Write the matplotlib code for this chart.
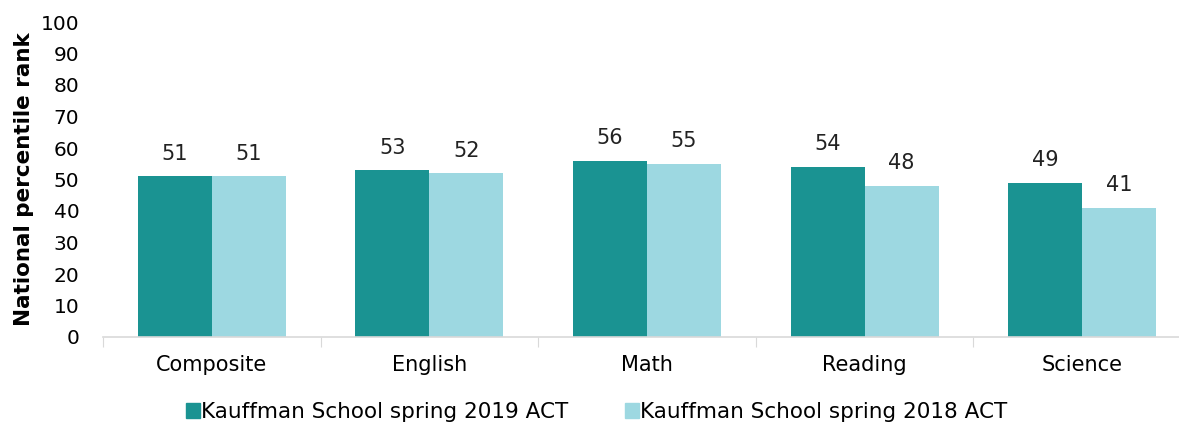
import numpy as np
import matplotlib.pyplot as plt
from matplotlib.patches import Patch

categories = ['Composite', 'English', 'Math', 'Reading', 'Science']
spring_2019 = [51, 53, 56, 54, 49]
spring_2018 = [51, 52, 55, 48, 41]
series_names = ['Kauffman School spring 2019 ACT', 'Kauffman School spring 2018 ACT']
colors = ['#1A9392', '#9DD8E1']

plt.rcParams['font.family'] = ['DejaVu Sans']

fig = plt.figure(figsize=(11.79, 4.24), dpi=100)
# axes extends slightly past the right edge, like the original
ax = fig.add_axes([103 / 1179, 1 - 337 / 424, 1088 / 1179, 315 / 424])

x = np.arange(len(categories))
w = 0.34
b1 = ax.bar(x - w / 2, spring_2019, w, color=colors[0])
b2 = ax.bar(x + w / 2, spring_2018, w, color=colors[1])

for bars in (b1, b2):
    for rect in bars:
        ax.annotate(f'{rect.get_height():.0f}',
                    (rect.get_x() + rect.get_width() / 2, rect.get_height()),
                    xytext=(0, 9), textcoords='offset points',
                    ha='center', va='bottom', fontsize=15, color='#222222')

ax.set_xlim(-0.5, len(categories) - 0.5)
ax.set_ylim(0, 100)
ax.set_yticks(range(0, 101, 10))

# category boundaries as major ticks, labels on minor ticks
ax.set_xticks(np.arange(-0.5, len(categories), 1.0))
ax.set_xticklabels([])
ax.set_xticks(x, minor=True)
ax.set_xticklabels(categories, minor=True)
ax.tick_params(axis='x', which='major', length=7, color='#D9D9D9', direction='out')
ax.tick_params(axis='x', which='minor', length=0, pad=13, labelsize=15)
ax.tick_params(axis='y', length=0, pad=17, labelsize=14.5)

for s in ['top', 'right', 'left']:
    ax.spines[s].set_visible(False)
ax.spines['bottom'].set_color('#D9D9D9')
ax.spines['bottom'].set_linewidth(1.2)

ax.set_ylabel('National percentile rank', fontsize=15.5, fontweight='bold', labelpad=5)

handles = [Patch(color=c) for c in colors]
fig.legend(handles, series_names, loc='center', bbox_to_anchor=(0.506, 1 - 412 / 424),
           ncol=2, frameon=False, fontsize=15.5, handlelength=0.65, handleheight=0.65,
           handletextpad=0.08, columnspacing=2.6)

fig.savefig('out.png', dpi=100)
